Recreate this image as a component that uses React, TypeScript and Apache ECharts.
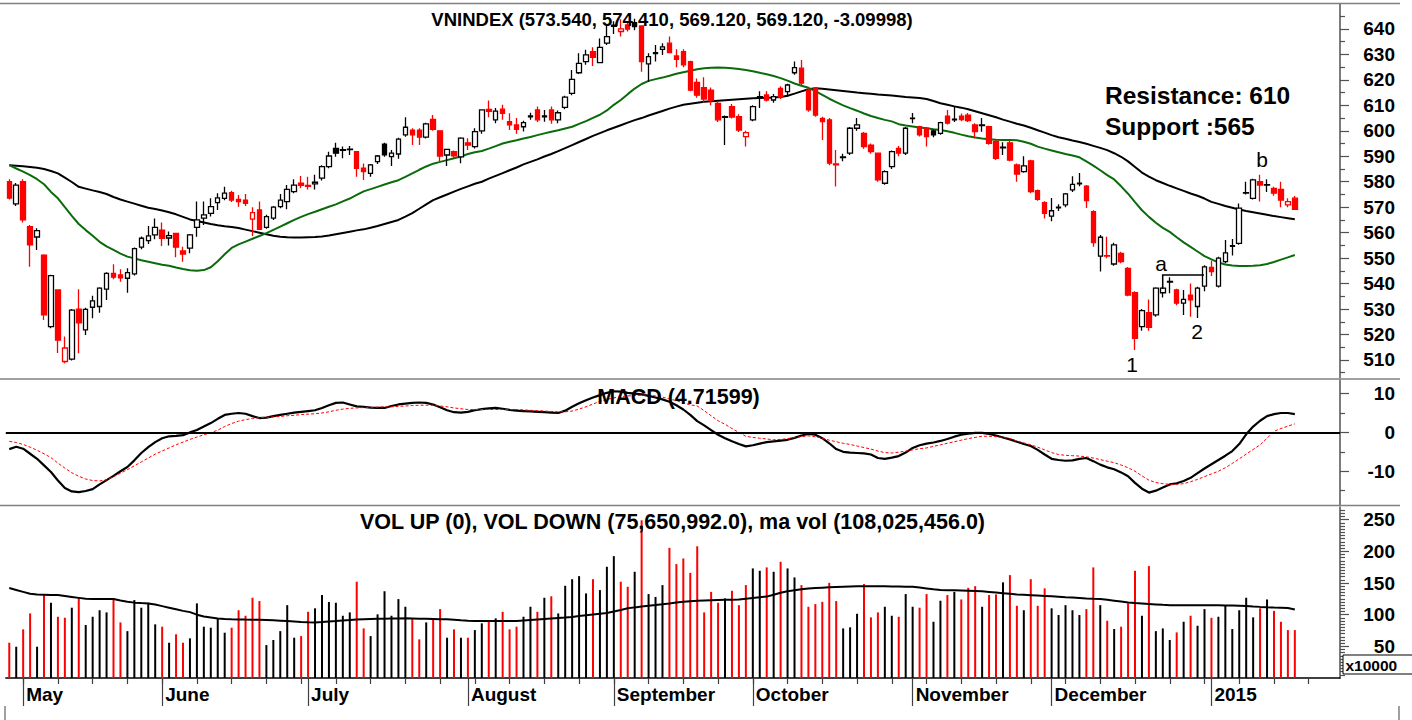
import React, { useEffect, useRef } from 'react';
import * as echarts from 'echarts';

// ---------- DATA ----------
// [open, close, low, high]
const ohlc: number[][] = [
  [580, 573.6, 573, 581], [571.3, 578.7, 570.5, 579.5], [580, 565, 564, 581], [562.4, 555.2, 546.6, 563],
  [558.3, 560.8, 553.2, 561.7], [551.2, 527.7, 525.7, 551.5], [523.1, 543.1, 522.5, 543.5], [537.5, 517.8, 512.7, 537.8],
  [509.4, 514.7, 508.7, 519.2], [510.3, 529.6, 509.8, 530], [530, 524.6, 512.6, 537.8], [521.8, 529.9, 519.8, 530.5],
  [530.7, 533.2, 526.4, 535.2], [531, 538.2, 528.5, 538.6], [537.8, 544, 533.6, 544.5], [544, 542.5, 541.7, 547.6],
  [543.4, 542.3, 540.7, 545.6], [542.1, 544.3, 536.4, 546], [543.8, 553.7, 543.2, 554.2], [554.3, 557.8, 553.5, 558.5],
  [556.9, 558.7, 555.5, 562.6], [559.1, 562.1, 557.4, 565.6], [561, 557.8, 554.8, 564], [557.9, 558.8, 555, 560.5],
  [559.7, 554.3, 550.3, 560], [552.8, 551.6, 548.6, 554.5], [553.9, 559.1, 551.9, 559.5], [562.1, 565, 558.4, 572.2],
  [565.7, 567, 563, 572.2], [567.6, 570.2, 566.3, 573.5], [571.8, 573.7, 568.9, 575.5], [573.5, 575.5, 572.7, 578],
  [575.7, 572.8, 572, 576.5], [573.1, 572.2, 570.2, 574.8], [572.8, 571.5, 570.5, 575.2], [565.3, 567.9, 558.7, 570],
  [568.9, 561.3, 561, 572.2], [562.1, 566.3, 561.5, 567], [565.7, 570, 565, 570.5], [570.2, 572.8, 569.6, 575.2],
  [572.2, 577, 569.2, 578.7], [576.1, 578.7, 575.5, 581], [579.4, 578.6, 577.4, 582.3], [578.6, 578.2, 577, 582],
  [579.2, 579.8, 577, 582.7], [581.4, 585.9, 580.5, 586.5], [585.9, 590.1, 585.3, 591.8], [593.1, 591.2, 589.8, 595.3],
  [592.3, 592.6, 589.2, 593.8], [592.6, 592.8, 590.5, 594], [591.8, 585.3, 582, 592], [585.3, 584, 580.7, 587.2],
  [583.3, 586.6, 582, 587], [587.9, 590.1, 587, 590.5], [594.8, 590.6, 589.8, 595.3], [589.9, 591.2, 586.2, 592.5],
  [590.9, 596.7, 589, 597.3], [598.4, 601.4, 597.7, 605.3], [600.3, 598.4, 594.4, 601], [600.3, 597.5, 594.4, 601],
  [597.5, 602.7, 597, 603.2], [604.5, 600.6, 600, 606.2], [600, 590.1, 587.9, 600.2], [590.5, 592.7, 586.2, 593],
  [591.8, 590.2, 589.5, 592.3], [589.8, 597.1, 587.3, 597.5], [595.3, 594.4, 592.5, 597.1], [593.8, 599.7, 593.1, 601],
  [600, 608.2, 598.8, 608.5], [608.4, 607.6, 605.3, 611.9], [604.3, 607.7, 603, 609], [608.5, 606.9, 604.3, 610.2],
  [603.6, 602.3, 600.3, 606.9], [602.3, 600.6, 598.8, 605], [601.6, 603.2, 599.7, 604], [605.5, 605.9, 604.3, 607.1],
  [608.2, 604.3, 603.5, 609.5], [605.5, 605.9, 603.6, 608.2], [608.2, 604.3, 602.8, 609.5], [604.3, 607.1, 603, 608],
  [609.2, 613.2, 608.5, 613.8], [614.7, 620.2, 614, 623.9], [622.8, 626.5, 622.3, 630.5], [627.2, 629.8, 625.9, 631.8],
  [631.1, 628.9, 625.5, 632.8], [626.8, 632.8, 626.5, 636.3], [634.4, 637, 633.7, 641.6], [641, 641.5, 638, 643],
  [639, 640, 637, 643.8], [641.6, 639.9, 639, 642.5], [642.5, 640.9, 639.5, 644], [641.2, 627.2, 623.2, 641.5],
  [626.3, 629.1, 619.3, 630.5], [630.3, 630.7, 627.2, 633.7], [632, 633, 629.8, 634.4], [634.4, 630.7, 630.5, 637],
  [629.4, 628.1, 625, 632], [631.1, 625.9, 625, 632], [627.2, 616, 615.5, 627.5], [619, 614, 613, 620.5],
  [617, 612.5, 611, 621], [616, 612.1, 610, 617], [610.8, 604.3, 603.5, 611.5], [605.3, 605.6, 594.4, 606],
  [609.5, 605.4, 604.8, 610.5], [605.6, 600.3, 599.5, 606.5], [597.7, 599.3, 593.8, 600], [604.3, 609.5, 603.8, 610],
  [613, 613.4, 609, 615.5], [614.1, 612.1, 611.5, 615.5], [612.1, 613.4, 611, 614.5], [616.7, 613.2, 612.5, 617.5],
  [615.4, 618, 613.5, 618.5], [622.8, 624.8, 622, 627.2], [624.6, 618.7, 618, 627.8], [616, 608.2, 607.5, 616.5],
  [616.7, 606.2, 605.5, 617], [604.9, 603.6, 596.4, 605.5], [604.3, 587.3, 586.5, 605], [587, 586.6, 578.1, 592.5],
  [589.5, 589.8, 588, 591], [591.2, 601, 590.5, 601.5], [601, 602.3, 600, 605], [599, 593.8, 593, 599.5],
  [594.4, 591.8, 591, 595], [591.2, 580.7, 580, 591.5], [579.4, 584, 578.8, 584.5], [585.9, 591.8, 585, 592.3],
  [593.1, 591.2, 590, 594], [591.2, 601, 590.5, 601.5], [604.8, 605, 603, 607], [601.6, 598.4, 597.8, 602],
  [601, 597.7, 593.8, 601.5], [600, 598.4, 597.5, 600.5], [599, 603.2, 598.5, 603.6], [605.8, 603, 602.5, 608.2],
  [604.3, 604.6, 603.5, 609.6], [605.8, 604.4, 603.8, 606.8], [606.2, 604, 603.5, 607], [602.3, 599.7, 597.1, 603],
  [602, 602.3, 599.6, 605], [601.6, 595.1, 594.5, 602], [595.8, 589.2, 588.5, 596.5], [593.3, 593.6, 590.5, 595.5],
  [595.3, 588.5, 588, 596], [586.6, 583, 580, 587.2], [584, 586.2, 583.5, 590], [588.2, 576.1, 575.5, 588.6],
  [576.5, 573.1, 572.5, 577], [571.8, 567.6, 565.6, 572.3], [566.5, 568.6, 564.5, 573.6], [569.7, 570, 568.5, 571.2],
  [570.9, 575.2, 570, 575.6], [576.8, 579, 576, 582.2], [579.2, 579.4, 578.2, 583.4], [578.3, 572.6, 569.7, 578.7],
  [568.3, 556.1, 554.5, 568.8], [550.8, 558.2, 544.7, 559.1], [551, 550.8, 550, 558.4], [547.7, 555.2, 547, 556],
  [551.9, 548.6, 548, 552.5], [546, 535.5, 535, 546.5], [536.4, 518.5, 513.9, 537], [523.1, 529.4, 521.5, 530],
  [528.6, 522.8, 521.5, 533.8], [527.7, 538.2, 527, 538.6], [536.4, 538.2, 534.5, 539], [540.6, 540.9, 536.2, 542.5],
  [537.5, 532.3, 531.5, 538], [532.3, 533.8, 527.7, 537.5], [535.5, 533.6, 527, 540], [531, 538.2, 526.5, 538.8],
  [539, 546.6, 537, 547.2], [546.4, 544.7, 543, 549], [539, 550, 538.5, 550.5], [548.6, 552.1, 548, 557.1],
  [554.6, 554.9, 551, 557.5], [555.8, 569.6, 555.3, 571.5], [575.5, 575.7, 575, 580], [573.5, 580.7, 573, 581.2],
  [580, 578.7, 572.2, 582.7], [578.7, 578.9, 576, 581], [577.4, 575.5, 574.5, 578], [577, 572.8, 570, 580],
  [570.9, 572.22, 570, 573.5], [573.54, 569.12, 569.12, 574.41],
];
const closeBeforeFirst = 581;

const maLong: number[] = [
  586.5, 586.3, 586.1, 585.8, 585.5, 585.0, 584.2, 583.3, 581.6, 579.9, 578.0, 577.3, 576.6, 576.0, 575.2, 574.0,
  573.0, 572.2, 571.4, 570.6, 569.8, 569.3, 568.7, 568.0, 567.2, 566.2, 565.2, 564.6, 564.0, 563.4, 562.9, 562.5,
  562.2, 561.8, 561.2, 560.6, 560.0, 559.4, 558.8, 558.4, 558.2, 558.1, 558.1, 558.2, 558.3, 558.5, 558.9, 559.4,
  559.9, 560.4, 560.9, 561.3, 561.9, 562.6, 563.4, 564.2, 565.0, 566.3, 567.7, 569.4, 571.1, 572.8, 573.9, 575.0,
  576.1, 577.2, 578.2, 579.2, 580.0, 581.2, 582.3, 583.4, 584.5, 585.6, 586.8, 587.8, 588.8, 589.9, 590.9, 592.0,
  593.2, 594.4, 595.6, 596.8, 598.0, 599.1, 600.2, 601.2, 602.2, 603.2, 604.2, 605.0, 606.0, 606.9, 607.8, 608.7,
  609.5, 610.2, 610.6, 611.0, 611.4, 611.6, 611.8, 612.0, 612.2, 612.4, 612.6, 612.8, 612.9, 613.0, 613.1, 613.3,
  613.8, 614.6, 615.5, 616.3, 616.7, 616.5, 616.2, 615.9, 615.6, 615.3, 615.0, 614.8, 614.6, 614.3, 614.1, 613.9,
  613.6, 613.3, 613.1, 612.9, 612.5, 611.7, 610.8, 610.2, 609.6, 609.1, 608.5, 607.7, 606.9, 606.1, 605.3, 604.4,
  603.6, 602.8, 602.1, 601.2, 600.2, 599.3, 598.3, 597.5, 596.9, 596.2, 595.6, 594.9, 594.1, 593.3, 592.4, 591.2,
  589.8, 588.0, 585.8, 583.6, 582.0, 580.6, 579.5, 578.4, 577.4, 576.4, 575.4, 574.5, 573.4, 572.1, 571.3, 570.5,
  569.8, 569.1, 568.5, 568.0, 567.5, 567.0, 566.5, 566.1, 565.7, 565.3,
];

const maShort: number[] = [
  586.5, 585.2, 584.0, 582.6, 581.0, 579.0, 576.0, 573.5, 570.0, 566.6, 563.4, 561.0, 558.8, 556.4, 554.6, 553.2,
  551.8, 550.6, 549.9, 549.2, 548.6, 548.0, 547.4, 547.0, 546.3, 545.7, 545.2, 545.0, 545.3, 546.4, 548.8, 551.5,
  554.0, 555.4, 556.5, 557.6, 558.7, 559.8, 561.1, 562.4, 563.7, 565.0, 566.2, 567.3, 568.2, 569.2, 570.2, 571.1,
  572.3, 573.4, 574.8, 576.2, 577.1, 578.0, 578.9, 579.8, 580.6, 581.9, 583.3, 584.7, 586.0, 587.1, 587.8, 588.5,
  589.2, 589.9, 590.9, 591.6, 592.1, 593.0, 594.0, 595.0, 595.7, 596.3, 597.0, 597.6, 598.3, 599.0, 599.6, 600.2,
  600.9, 601.6, 602.7, 603.8, 605.1, 606.3, 608.0, 610.2, 612.1, 614.4, 616.6, 618.4, 619.6, 620.3, 620.9, 621.6,
  622.4, 623.0, 623.6, 624.2, 624.6, 624.8, 624.9, 624.8, 624.6, 624.3, 623.9, 623.4, 622.8, 622.2, 621.5, 620.7,
  619.7, 618.6, 617.7, 616.9, 615.6, 614.1, 612.6, 611.3, 610.0, 608.9, 607.9, 606.8, 605.8, 605.0, 604.3, 603.7,
  602.6, 602.1, 601.7, 601.3, 601.0, 600.6, 600.3, 599.8, 599.2, 598.5, 597.9, 597.4, 597.0, 596.7, 596.5, 596.4,
  596.4, 596.3, 595.7, 594.9, 593.8, 593.0, 592.3, 591.6, 590.9, 590.3, 589.6, 588.0, 586.3, 584.5, 582.6, 580.9,
  578.2, 575.3, 572.0, 568.8, 566.2, 563.9, 561.9, 560.3, 558.2, 556.2, 554.4, 552.6, 550.8, 549.5, 548.3, 547.5,
  547.1, 546.9, 546.9, 547.0, 547.2, 547.7, 548.5, 549.4, 550.3, 551.2,
];

const macdLine: number[] = [
  -4.3, -3.7, -4.2, -5.5, -6.8, -8.5, -10.2, -12.4, -14.3, -15.2, -15.4, -15.1, -14.6, -13.4, -12.3, -11.2,
  -10, -8.9, -7.2, -5.3, -3.8, -2.5, -1.5, -1.0, -0.9, -0.7, 0, 0.6, 1.5, 2.4, 3.5, 4.5,
  4.8, 5, 4.8, 4.2, 3.7, 3.8, 4.2, 4.5, 4.8, 5.1, 5.3, 5.5, 5.7, 6.3, 7.0, 7.6,
  7.7, 7.2, 6.7, 6.6, 6.4, 6.3, 6.3, 6.8, 7.2, 7.4, 7.6, 7.7, 7.6, 7.2, 6.5, 5.7,
  5.2, 5.1, 5.3, 5.7, 6.0, 6.2, 6.3, 6.1, 5.8, 5.6, 5.5, 5.4, 5.3, 5.2, 5.1, 5.0,
  5.6, 6.6, 7.5, 8.3, 9.0, 9.6, 10.2, 10.6, 10.5, 10.2, 10.0, 9.8, 9.4, 9.0, 8.5, 7.9,
  7.0, 5.9, 4.5, 2.9, 1.8, 0.6, -0.6, -1.5, -2.3, -3.0, -3.6, -3.3, -2.9, -2.5, -2.3, -2.1,
  -1.9, -1.4, -0.8, -0.4, -0.6, -1.5, -2.8, -4.3, -5.0, -5.2, -5.3, -5.4, -5.7, -6.6, -6.8, -6.5,
  -6.1, -5.2, -4.0, -3.3, -2.9, -2.6, -2.2, -1.7, -1.1, -0.6, -0.3, -0.1, -0.1, -0.4, -0.8, -1.3,
  -1.8, -2.4, -3.0, -3.5, -4.5, -5.7, -6.8, -7.1, -7.3, -7.2, -6.8, -6.6, -7.4, -8.3, -9.0, -9.5,
  -10.3, -11.3, -13.0, -14.5, -15.5, -15.0, -14.2, -13.4, -13.1, -12.5, -11.7, -10.5, -9.3, -8.2, -7.1, -6.0,
  -4.8, -3.0, -0.5, 1.5, 3.0, 4.2, 4.7, 5.0, 5.0, 4.72,
];

const signalLine: number[] = [
  -2.3, -2.6, -3.1, -3.8, -4.6, -5.5, -6.5, -7.9, -9.2, -10.4, -11.3, -12, -12.4, -12.5, -12.2, -11.4,
  -10.5, -9.6, -8.6, -7.6, -6.6, -5.6, -4.8, -4.0, -3.2, -2.5, -1.8, -1.2, -0.6, -0.1, 0.6, 1.5,
  2.3, 2.9, 3.3, 3.6, 3.8, 3.9, 4.0, 4.1, 4.3, 4.4, 4.6, 4.7, 4.8, 5.0, 5.3, 5.7,
  6.0, 6.2, 6.3, 6.4, 6.5, 6.5, 6.6, 6.6, 6.7, 6.8, 6.9, 7.0, 7.0, 7.0, 6.8, 6.6,
  6.3, 6.1, 5.9, 5.9, 5.9, 5.9, 5.9, 5.9, 5.9, 5.9, 5.8, 5.7, 5.6, 5.5, 5.4, 5.3,
  5.3, 5.5, 6.0, 6.6, 7.3, 8.0, 8.5, 8.9, 9.2, 9.4, 9.5, 9.6, 9.6, 9.4, 9.1, 8.6,
  8.2, 7.6, 7.1, 6.8, 5.6, 4.3, 3.0, 2.1, 1.0, 0, -1.0, -1.3, -1.5, -1.7, -1.9, -1.8,
  -1.6, -1.3, -1.1, -0.9, -1.1, -1.5, -2.0, -2.4, -2.8, -3.1, -3.5, -3.9, -4.3, -4.8, -5.2, -5.3,
  -5.1, -4.8, -4.5, -4.2, -4.0, -3.6, -3.2, -2.8, -2.4, -2.0, -1.6, -1.3, -1.0, -1.0, -1.1, -1.3,
  -1.6, -2.2, -2.7, -3.2, -3.8, -4.5, -5.2, -5.7, -5.9, -6.0, -6.1, -6.3, -6.6, -7.0, -7.4, -7.8,
  -8.4, -9.1, -10.0, -11.2, -12.3, -12.9, -13.2, -13.4, -13.4, -13.2, -12.7, -12.1, -11.4, -10.7, -10.0, -9.1,
  -8.0, -6.8, -5.6, -4.4, -3.2, -1.5, 0.3, 1.0, 1.6, 2.2,
];

// volume, units of x10000 as on the axis
const volume: number[] = [
  55.7, 49.4, 76.8, 102, 49.4, 131, 118.8, 96.7, 95, 111, 126.7, 83.6, 96.7, 107, 103.6, 125.7,
  87.8, 74, 123, 111, 118.8, 84.7, 81, 55.7, 69, 55.7, 62.6, 117.8, 81, 79.4, 93, 71.5,
  79.4, 107, 98.3, 126.7, 121.5, 52, 60, 74, 115, 63.6, 66.2, 104.6, 110, 131, 120, 118.8,
  98.3, 103.6, 152, 78.3, 66.2, 100.5, 137, 98.3, 124.6, 112.5, 93, 61, 87.8, 93, 108.8, 63.6,
  76.8, 63.6, 63.6, 75.7, 86.3, 88.9, 94.2, 104.6, 76.8, 81, 96.7, 112.5, 104.6, 126.7, 129, 102,
  145.6, 156, 160.8, 133.6, 156, 138.8, 175.6, 192.4, 152, 144, 167.7, 249, 132.5, 128, 146.7, 205.5,
  179.8, 188.8, 166, 208, 103.6, 136, 118.8, 125.7, 137.7, 115, 146.7, 173, 169.3, 174.6, 167.7, 183.5,
  173, 158.8, 146.7, 112.5, 116.7, 120.3, 150.3, 121.5, 78.3, 80, 101.4, 148.3, 95.7, 103.6, 112.5, 98.3,
  96.7, 132.5, 112.5, 111, 132.5, 88.8, 122, 131, 136, 124, 142.4, 145, 112.5, 131, 132, 151,
  162.5, 114, 107, 156, 114, 141.5, 110, 99.4, 115, 107, 99.4, 108.8, 174.6, 115, 90.4, 77.3,
  81, 117.8, 169.3, 98.3, 176.7, 74, 78.3, 60, 72, 88.8, 98.3, 82.5, 108.8, 95, 96.7, 114,
  77.3, 107, 126.7, 95.7, 110, 124, 106, 88.8, 75.7, 75.65,
];

const volumeMa: number[] = [
  142, 139, 136, 133, 132, 131.5, 131, 131, 129.5, 128, 126.5, 125, 124.6, 124.6, 124.6, 124.6,
  122.5, 120.5, 119, 118.3, 117.8, 116, 113.5, 111, 108.5, 106, 104, 100, 97, 95.5, 94, 93,
  92.7, 92.5, 92.2, 92, 91.8, 91.5, 91, 90.5, 90, 89.3, 88.6, 88, 87.8, 88.5, 89.3, 90,
  90.8, 91.6, 92.5, 92.8, 93.1, 93.4, 93.6, 93.9, 94.1, 94.2, 94, 93.7, 93.4, 93.1, 92.8, 92.6,
  91.9, 91.1, 90.5, 90, 90, 90, 90, 90, 90, 90, 90.8, 91.6, 92.4, 93.2, 94, 94.8,
  95.6, 96.5, 97.8, 99, 100.2, 101.4, 102.5, 105, 107.5, 110, 111.5, 112.8, 114, 115.2, 116.5, 117.8,
  119.2, 120.3, 121.2, 122, 122.5, 122.8, 123.1, 123.4, 123.7, 124, 125.2, 126.4, 127.5, 128.5, 131.5, 134.5,
  137, 138.5, 140, 141.3, 142, 142.6, 143.2, 143.8, 144.2, 144.5, 144.8, 145, 145, 145, 144.8, 144.6,
  144.4, 144.2, 144, 142.8, 141.5, 140.2, 139, 138.7, 138.4, 138, 137.6, 137.2, 136.8, 135.9, 135, 134,
  133, 132, 131.4, 130.8, 130.2, 129.6, 129, 128.3, 127.6, 127, 126.3, 125.6, 125, 124.6, 123.4, 122.1,
  120.8, 119.2, 118.3, 117.6, 116.9, 116.2, 115.5, 115, 115, 115, 115, 115, 114.9, 114.8, 114.7, 114.5,
  114.3, 114.1, 113.8, 113, 112.3, 111.7, 111.2, 110.8, 110.4, 108.0,
];

const monthStartIndex = [2, 22, 43, 66, 87, 107, 130, 150, 173];
const monthNames = ['May', 'June', 'July', 'August', 'September', 'October', 'November', 'December', '2015'];
const priceLabelValues = [510, 520, 530, 540, 550, 560, 570, 580, 590, 600, 610, 620, 630, 640];
const priceMinorTickValues = [505, 515, 525, 535, 545, 555, 565, 575, 585, 595, 605, 615, 625, 635, 645];
const macdLabelValues = [-10, 0, 10];
const macdMinorTickValues = [-15, -5, 5];
const volLabelValues = [50, 100, 150, 200, 250];
const volMinorTickValues = [
  5, 10, 15, 20, 25, 30, 35, 40, 45, 55, 60, 65, 70, 75, 80, 85, 90, 95, 105, 110, 115, 120, 125, 130, 135, 140, 145,
  155, 160, 165, 170, 175, 180, 185, 190, 195, 205, 210, 215, 220, 225, 230, 235, 240, 245, 255, 260, 265,
];
const emptySlotsAfter = 6;

const titleText = 'VNINDEX (573.540, 574.410, 569.120, 569.120, -3.09998)';
const macdTitle = 'MACD (4.71599)';
const volTitle = 'VOL UP (0), VOL DOWN (75,650,992.0), ma vol (108,025,456.0)';

// ---------- LAYOUT ----------
const FONT = '"Liberation Sans", Arial, Helvetica, sans-serif';
const PLOT_LEFT = 5.8;
const PLOT_RIGHT_X = 1340;
const W = 1412;
const H = 720;
const RED = '#ff0000';

export default function App() {
  const ref = useRef<HTMLDivElement>(null);

  useEffect(() => {
    if (!ref.current) return;
    const chart = echarts.init(ref.current, undefined, { renderer: 'svg' });

    const n = ohlc.length;
    const categories = Array.from({ length: n + emptySlotsAfter }, (_, i) => String(i));
    const colorOf = (i: number) => {
      const prev = i === 0 ? closeBeforeFirst : ohlc[i - 1][1];
      return ohlc[i][1] >= prev ? '#000000' : RED;
    };

    const candleData = ohlc.map((d, i) => {
      const [o, c] = d;
      const col = colorOf(i);
      const fill = c >= o ? '#ffffff' : col;
      return {
        value: d,
        itemStyle: { color: fill, color0: fill, borderColor: col, borderColor0: col, borderWidth: 1.3 },
      };
    });
    const volData = volume.map((v, i) => ({ value: v, itemStyle: { color: colorOf(i) } }));

    const gridBase = { left: PLOT_LEFT, width: PLOT_RIGHT_X - PLOT_LEFT, containLabel: false };
    const hiddenX = (gridIndex: number) => ({
      type: 'category', gridIndex, data: categories, boundaryGap: true,
      axisLine: { show: false }, axisTick: { show: false }, axisLabel: { show: false }, splitLine: { show: false },
    });
    const axisLabelStyle = { color: '#000', fontFamily: FONT, fontWeight: 'bold', fontSize: 19, align: 'right', margin: 55 };
    const yMain = (gridIndex: number, min: number, max: number, labels: number[]) => ({
      type: 'value', gridIndex, position: 'right', min, max, scale: true,
      axisLine: { show: true, lineStyle: { color: '#505050', width: 1.5 } },
      axisTick: { show: true, customValues: labels, length: 9, lineStyle: { color: '#505050', width: 1.2 } },
      axisLabel: { show: true, customValues: labels, ...axisLabelStyle },
      splitLine: { show: false },
    });
    const yMinor = (gridIndex: number, min: number, max: number, ticks: number[]) => ({
      type: 'value', gridIndex, position: 'right', min, max, scale: true,
      axisLine: { show: false },
      axisTick: { show: true, customValues: ticks, length: 5, lineStyle: { color: '#505050', width: 1.2 } },
      axisLabel: { show: false },
      splitLine: { show: false },
    });

    const textEl = (text: string, x: number, y: number, font: string, align = 'center', z = 50) => ({
      type: 'text', x, y, z,
      style: { text, font, fill: '#000', align, textAlign: align, verticalAlign: 'middle', textVerticalAlign: 'middle' },
    });
    const hLine = (y: number, x1: number, x2: number, color = '#808080', w = 1.5) => ({
      type: 'line', z: 40, shape: { x1, y1: y, x2, y2: y }, style: { stroke: color, lineWidth: w },
    });

    const option: any = {
      animation: false,
      backgroundColor: '#ffffff',
      grid: [
        { ...gridBase, top: 3.5, height: 374.3 },
        { ...gridBase, top: 380, height: 125 },
        { ...gridBase, top: 507, height: 171 },
      ],
      xAxis: [
        hiddenX(0),
        hiddenX(1),
        {
          type: 'category', gridIndex: 2, data: categories, boundaryGap: true, position: 'bottom',
          axisLine: { show: true, lineStyle: { color: '#000', width: 1.5 } },
          axisTick: {
            show: true, alignWithLabel: true, length: 28, lineStyle: { color: '#404040', width: 1.2 },
            interval: (i: number) => monthStartIndex.includes(i),
          },
          axisLabel: {
            show: true, interval: (i: number) => monthStartIndex.includes(i),
            formatter: (_v: string, i: number) => {
              const k = monthStartIndex.indexOf(i);
              return k >= 0 ? monthNames[k] : '';
            },
            align: 'left', margin: 7, padding: [0, 0, 0, 3],
            color: '#000', fontFamily: FONT, fontWeight: 'bold', fontSize: 19,
          },
          splitLine: { show: false },
        },
        {
          type: 'category', gridIndex: 2, data: categories, boundaryGap: true, position: 'bottom',
          axisLine: { show: false },
          axisTick: {
            show: true, alignWithLabel: true, length: 6, lineStyle: { color: '#404040', width: 1.2 },
            interval: (i: number) => i % 5 === 2,
          },
          axisLabel: { show: false },
          splitLine: { show: false },
        },
      ],
      yAxis: [
        yMain(0, 503, 650, priceLabelValues),
        yMinor(0, 503, 650, priceMinorTickValues),
        yMain(1, -18.7, 13.5, macdLabelValues),
        yMinor(1, -18.7, 13.5, macdMinorTickValues),
        yMain(2, 0, 270, volLabelValues),
        yMinor(2, 0, 270, volMinorTickValues),
      ],
      series: [
        {
          name: 'MA long', type: 'line', xAxisIndex: 0, yAxisIndex: 0, data: maLong, symbol: 'none',
          lineStyle: { color: '#000', width: 2 }, z: 1,
        },
        {
          name: 'MA short', type: 'line', xAxisIndex: 0, yAxisIndex: 0, data: maShort, symbol: 'none',
          lineStyle: { color: '#0b6b0b', width: 2 }, z: 1,
        },
        {
          name: 'VNINDEX', type: 'candlestick', xAxisIndex: 0, yAxisIndex: 0, data: candleData, barWidth: 5, z: 3,
        },
        {
          name: 'MACD', type: 'line', xAxisIndex: 1, yAxisIndex: 2, data: macdLine, symbol: 'none',
          lineStyle: { color: '#000', width: 2.2 },
          markLine: {
            silent: true, symbol: ['none', 'none'], label: { show: false },
            lineStyle: { color: '#000', width: 2, type: 'solid' },
            data: [{ yAxis: 0 }],
          },
        },
        {
          name: 'Signal', type: 'line', xAxisIndex: 1, yAxisIndex: 2, data: signalLine, symbol: 'none',
          lineStyle: { color: RED, width: 1, type: [3, 2] },
        },
        {
          name: 'Volume', type: 'bar', xAxisIndex: 2, yAxisIndex: 4, data: volData, barWidth: 2,
        },
        {
          name: 'MA vol', type: 'line', xAxisIndex: 2, yAxisIndex: 4, data: volumeMa, symbol: 'none',
          lineStyle: { color: '#000', width: 2 }, z: 4,
        },
      ],
      graphic: [
        hLine(3.5, 0, 1400),
        hLine(379, 0, 1400),
        hLine(505.5, 0, 1400),
        { type: 'line', z: 40, shape: { x1: 5, y1: 706, x2: 5, y2: 720 }, style: { stroke: '#808080', lineWidth: 1.5 } },
        { type: 'line', z: 40, shape: { x1: 1399, y1: 706, x2: 1399, y2: 720 }, style: { stroke: '#808080', lineWidth: 1.5 } },
        textEl(titleText, 672, 19, `bold 18.5px ${FONT}`),
        textEl(macdTitle, 678.5, 397, `bold 21.5px ${FONT}`),
        textEl(volTitle, 672.5, 522, `bold 21.5px ${FONT}`),
        textEl('Resistance: 610', 1105, 95, `bold 24.5px ${FONT}`, 'left'),
        textEl('Support :565', 1105, 126, `bold 24.5px ${FONT}`, 'left'),
        textEl('1', 1132, 364, `21px ${FONT}`),
        textEl('2', 1197, 331, `21px ${FONT}`),
        textEl('a', 1161, 263, `21px ${FONT}`),
        textEl('b', 1262, 159, `21px ${FONT}`),
        {
          type: 'polyline', z: 45,
          shape: { points: [[1162.7, 289], [1162.7, 275], [1204, 275]] },
          style: { stroke: '#000', lineWidth: 1.5, fill: 'none' },
        },
        {
          type: 'rect', z: 60, shape: { x: 1343, y: 655, width: 72, height: 19 },
          style: { fill: '#ffffff', stroke: '#000', lineWidth: 1 },
        },
        textEl('x10000', 1345.5, 665, `bold 15.5px ${FONT}`, 'left', 70),
      ],
    };

    chart.setOption(option);
    return () => chart.dispose();
  }, []);

  return (
    <div
      ref={ref}
      style={{ position: 'fixed', left: 0, top: 0, width: W, height: H, background: '#fff' }}
    />
  );
}
